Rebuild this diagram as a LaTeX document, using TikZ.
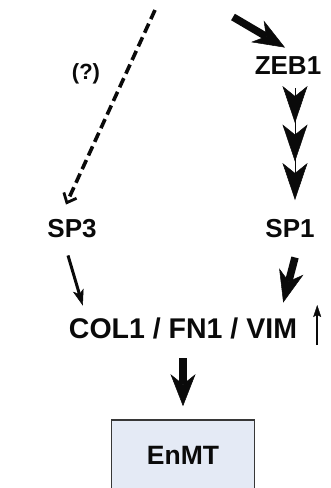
\documentclass[tikz,border=0pt]{standalone}
\usepackage{fontspec}
\setmainfont{Liberation Sans}
\usetikzlibrary{arrows.meta,calc}
\definecolor{boxfill}{RGB}{228,234,245}
\definecolor{boxline}{RGB}{55,55,55}
\definecolor{ink}{RGB}{10,10,10}
\begin{document}
\begin{tikzpicture}[x=1pt,y=1pt,
  lbl/.style={inner sep=0pt,text=ink,font=\fontsize{26}{28}\selectfont\bfseries,text height=18.5pt,text depth=0pt},
  biglbl/.style={inner sep=0pt,text=ink,font=\fontsize{28.5}{32}\selectfont\bfseries,text height=20.5pt,text depth=0pt},
  qlbl/.style={inner sep=0pt,text=ink,font=\fontsize{22}{24}\selectfont\bfseries},
  resbox/.style={draw=boxline,line width=1.6pt,fill=boxfill,inner sep=0pt,minimum width=143pt,minimum height=70pt,text=ink,font=\fontsize{26.5}{30}\selectfont\bfseries,text height=19pt,text depth=0pt},
  thick arrow/.style={draw=ink,line width=7.5pt,-{Stealth[length=32pt,width=25pt,inset=10pt,line width=0.5pt]}},
  thin arrow/.style={draw=ink,line width=3pt,-{Stealth[length=16pt,width=11pt,inset=4pt,line width=0.5pt]}},
  chain arrow/.style={draw=ink,line width=1pt,-{Stealth[length=37pt,width=25pt,inset=10pt,line width=0.5pt,sep=1.5pt]Stealth[length=37pt,width=25pt,inset=10pt,line width=0.5pt,sep=1.5pt]Stealth[length=37pt,width=25pt,inset=10pt,line width=0.5pt,sep=1.5pt]}},
  dash arrow/.style={draw=ink,line width=3.6pt,dash pattern=on 10pt off 5pt,-{Straight Barb[length=8pt,width=14pt,line width=2.8pt]}},
  up arrow/.style={draw=ink,line width=1.8pt,-{Stealth[length=12pt,width=8pt,inset=2pt,line width=0.3pt]}}
]
\useasboundingbox (0,0) rectangle (331,-488);
\clip (0,0) rectangle (331,-488);

% nodes
\node[qlbl] (q) at (86,-74) {(?)};
\node[lbl] (zeb1) at (288,-65) {ZEB1};
\node[lbl] (sp3) at (72,-228) {SP3};
\node[lbl] (sp1) at (290,-228) {SP1};
\node[biglbl] (col) at (183,-328) {COL1 / FN1 / VIM};
\node[resbox] (enmt) at (183,-455) {EnMT};

% free ends
\coordinate (dtop) at (155,-10);
\coordinate (ztop) at (233,-17);
\coordinate (ubot) at ($(col.east)+(20,-17)$);
\coordinate (utop) at ($(col.east)+(20,23)$);

% connectors
\draw[dash arrow] (dtop) -- ($(sp3.north)+(-6,14)$);
\draw[thick arrow] (ztop) -- ($(zeb1.north)+(-3,8)$);
\draw[chain arrow] ($(zeb1.south)+(7,-14)$) -- ($(sp1.north)+(5,17)$);
\draw[thin arrow] ($(sp3.south)+(-4,-18)$) -- ($(col.north west)+(14,12)$);
\draw[thick arrow] ($(sp1.south)+(5,-20)$) -- ($(col.north east)+(-14,15)$);
\draw[thick arrow] ($(col.south)+(0,-20)$) -- ($(enmt.north)+(0,13)$);
\draw[up arrow] (ubot) -- (utop);
\end{tikzpicture}
\end{document}
